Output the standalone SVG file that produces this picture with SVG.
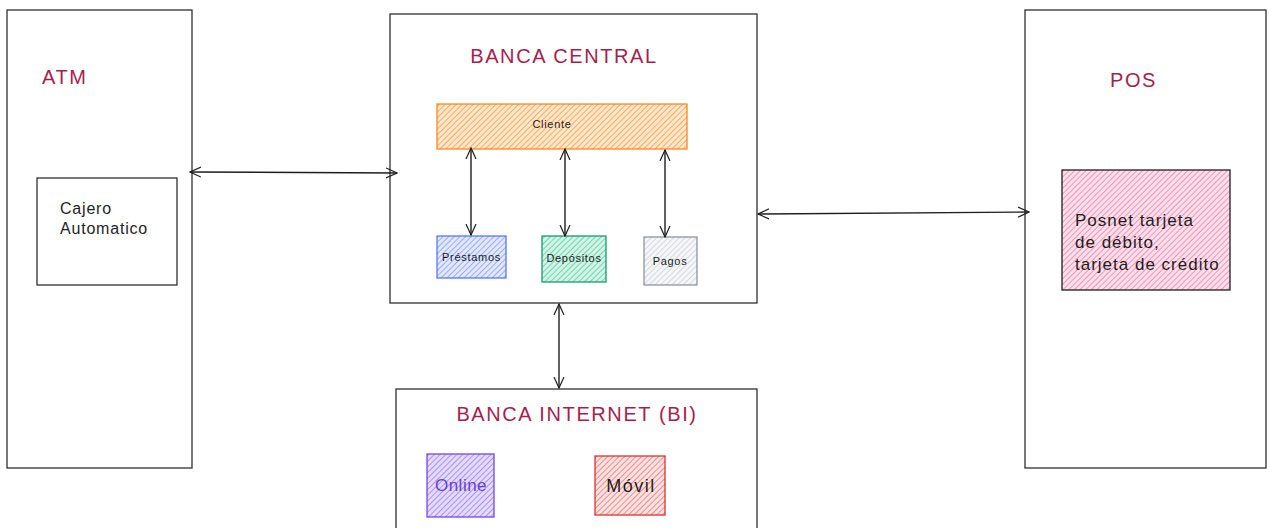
<svg xmlns="http://www.w3.org/2000/svg" width="1271" height="528" viewBox="0 0 1271 528">
  <style>
    .frame { fill: #ffffff; stroke: #1e1e1e; stroke-width: 1.2; }
    .title { font-family: "Liberation Sans", sans-serif; font-size: 20px; fill: #a61e4d; letter-spacing: 1.6px; }
    .label { font-family: "Liberation Sans", sans-serif; fill: #1e1e1e; }
    .small { font-size: 11px; letter-spacing: 0.7px; }
    .conn { stroke: #1e1e1e; stroke-width: 1.4; fill: none; }
  </style>
  <defs>
    <pattern id="hOrange" width="4" height="4" patternUnits="userSpaceOnUse" patternTransform="rotate(45)">
      <rect width="4" height="4" fill="#ffe8cc"/>
      <line x1="0" y1="0" x2="0" y2="4" stroke="#fd7e14" stroke-width="1.2"/>
    </pattern>
    <pattern id="hBlue" width="4" height="4" patternUnits="userSpaceOnUse" patternTransform="rotate(45)">
      <rect width="4" height="4" fill="#e3e8ff"/>
      <line x1="0" y1="0" x2="0" y2="4" stroke="#4c6ef5" stroke-width="1"/>
    </pattern>
    <pattern id="hGreen" width="4" height="4" patternUnits="userSpaceOnUse" patternTransform="rotate(45)">
      <rect width="4" height="4" fill="#d3f3e6"/>
      <line x1="0" y1="0" x2="0" y2="4" stroke="#12b886" stroke-width="1"/>
    </pattern>
    <pattern id="hGray" width="4" height="4" patternUnits="userSpaceOnUse" patternTransform="rotate(45)">
      <rect width="4" height="4" fill="#f5f6f7"/>
      <line x1="0" y1="0" x2="0" y2="4" stroke="#adb5bd" stroke-width="0.9"/>
    </pattern>
    <pattern id="hPink" width="4" height="4" patternUnits="userSpaceOnUse" patternTransform="rotate(45)">
      <rect width="4" height="4" fill="#fde0eb"/>
      <line x1="0" y1="0" x2="0" y2="4" stroke="#e64980" stroke-width="1"/>
    </pattern>
    <pattern id="hViolet" width="4" height="4" patternUnits="userSpaceOnUse" patternTransform="rotate(45)">
      <rect width="4" height="4" fill="#e5dbff"/>
      <line x1="0" y1="0" x2="0" y2="4" stroke="#7048e8" stroke-width="1"/>
    </pattern>
    <pattern id="hRed" width="4" height="4" patternUnits="userSpaceOnUse" patternTransform="rotate(45)">
      <rect width="4" height="4" fill="#ffe3e3"/>
      <line x1="0" y1="0" x2="0" y2="4" stroke="#e03131" stroke-width="1"/>
    </pattern>
    <marker id="arr" viewBox="0 0 12 12" refX="11" refY="6" markerWidth="12" markerHeight="12" markerUnits="userSpaceOnUse" orient="auto-start-reverse">
      <path d="M0,1 L11,6 L0,11" fill="none" stroke="#1e1e1e" stroke-width="1.2"/>
    </marker>
  </defs>

  <!-- ATM -->
  <g id="atm">
    <rect class="frame" x="7" y="10" width="185" height="458"/>
    <text class="title" x="42" y="84">ATM</text>
  </g>
  <g id="cajero">
    <rect class="frame" x="37" y="178" width="140" height="107" stroke-width="1.5"/>
    <text class="label" font-size="16" letter-spacing="0.8" x="60" y="214">Cajero</text>
    <text class="label" font-size="16" letter-spacing="0.8" x="60" y="234">Automatico</text>
  </g>

  <!-- Banca central -->
  <g id="banca-central">
    <rect class="frame" x="390" y="14" width="367" height="289"/>
    <text class="title" x="564" y="63" text-anchor="middle">BANCA CENTRAL</text>
  </g>
  <g id="cliente">
    <rect x="437" y="104" width="250" height="45" fill="url(#hOrange)" stroke="#fd7e14" stroke-width="1.2"/>
    <text class="label small" x="552" y="128" text-anchor="middle">Cliente</text>
  </g>
  <g id="prestamos">
    <rect x="437" y="236" width="69" height="42" fill="url(#hBlue)" stroke="#4c6ef5" stroke-width="1.2"/>
    <text class="label small" x="471.5" y="261" text-anchor="middle">Préstamos</text>
  </g>
  <g id="depositos">
    <rect x="542" y="236" width="64" height="46" fill="url(#hGreen)" stroke="#099268" stroke-width="1.2"/>
    <text class="label small" x="574" y="262" text-anchor="middle">Depósitos</text>
  </g>
  <g id="pagos">
    <rect x="644" y="237" width="53" height="48" fill="url(#hGray)" stroke="#868e96" stroke-width="1.2"/>
    <text class="label small" x="670" y="265" text-anchor="middle">Pagos</text>
  </g>

  <!-- POS -->
  <g id="pos">
    <rect class="frame" x="1025" y="10" width="241" height="458"/>
    <text class="title" x="1110" y="87">POS</text>
  </g>
  <g id="posnet">
    <rect x="1062" y="170" width="168" height="120" fill="url(#hPink)" stroke="#1e1e1e" stroke-width="1.3"/>
    <text class="label" font-size="17" letter-spacing="1" x="1075" y="226">Posnet tarjeta</text>
    <text class="label" font-size="17" letter-spacing="1" x="1075" y="248">de débito,</text>
    <text class="label" font-size="17" letter-spacing="1" x="1075" y="270">tarjeta de crédito</text>
  </g>

  <!-- Banca internet -->
  <g id="banca-internet">
    <rect class="frame" x="396" y="389" width="361" height="145"/>
    <text class="title" x="577" y="421" text-anchor="middle">BANCA INTERNET (BI)</text>
  </g>
  <g id="online">
    <rect x="427" y="454" width="67" height="63" fill="url(#hViolet)" stroke="#7048e8" stroke-width="1.3"/>
    <text font-family="Liberation Sans, sans-serif" font-size="17" letter-spacing="0.5" fill="#6741d9" x="461" y="491" text-anchor="middle">Online</text>
  </g>
  <g id="movil">
    <rect x="595" y="456" width="70" height="59" fill="url(#hRed)" stroke="#e03131" stroke-width="1.3"/>
    <text class="label" font-size="18" letter-spacing="1.5" x="631" y="492" text-anchor="middle">Móvil</text>
  </g>

  <!-- connectors -->
  <g id="connectors">
    <line class="conn" x1="190" y1="172" x2="397" y2="173" marker-start="url(#arr)" marker-end="url(#arr)"/>
    <line class="conn" x1="758" y1="214" x2="1029" y2="212" marker-start="url(#arr)" marker-end="url(#arr)"/>
    <line class="conn" x1="559" y1="304" x2="559" y2="388" marker-start="url(#arr)" marker-end="url(#arr)"/>
    <line class="conn" x1="471" y1="148" x2="471" y2="235" marker-start="url(#arr)" marker-end="url(#arr)"/>
    <line class="conn" x1="565" y1="149" x2="565" y2="236" marker-start="url(#arr)" marker-end="url(#arr)"/>
    <line class="conn" x1="665" y1="150" x2="665" y2="237" marker-start="url(#arr)" marker-end="url(#arr)"/>
  </g>
</svg>
